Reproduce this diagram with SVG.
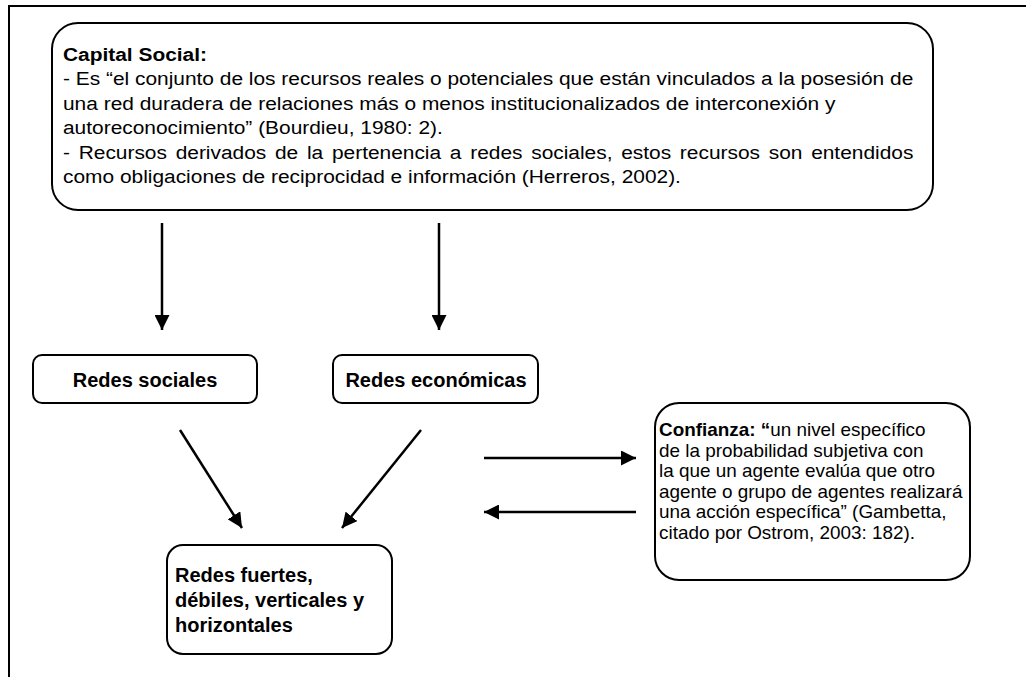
<svg xmlns="http://www.w3.org/2000/svg" width="1026" height="677" viewBox="0 0 1026 677">
<defs>
<style>
.box{fill:#fff;stroke:#000;stroke-width:2}
.frame{fill:none;stroke:#000;stroke-width:2}
.t{font-family:"Liberation Sans",Arial,sans-serif;font-size:18px;fill:#000}
.t19{font-size:19px}
.b{font-weight:bold}
.tb{font-family:"Liberation Sans",Arial,sans-serif;font-size:20px;font-weight:bold;fill:#000}
.edge{fill:none;stroke:#000;stroke-width:2.5}
</style>
<marker id="ah" viewBox="0 0 10 10" refX="10" refY="5" markerWidth="6" markerHeight="6" markerUnits="strokeWidth" orient="auto">
<path d="M0,0 L10,5 L0,10 Z" fill="#000"/>
</marker>
</defs>
<rect width="1026" height="677" fill="#fff"/>
<path class="frame" d="M9,677 V6 H1026"/>

<g id="capital-social">
<rect class="box" x="52" y="23" width="881" height="187" rx="26"/>
<g transform="translate(63 0) scale(1.1 1)">
<text class="t t19 b" x="0" y="61">Capital Social:</text>
<text class="t t19" x="0" y="85.5">- Es “el conjunto de los recursos reales o potenciales que están vinculados a la posesión de</text>
<text class="t t19" x="0" y="110">una red duradera de relaciones más o menos institucionalizados de interconexión y</text>
<text class="t t19" x="0" y="134.5">autoreconocimiento” (Bourdieu, 1980: 2).</text>
<text class="t t19" x="0" y="159" word-spacing="2.65">- Recursos derivados de la pertenencia a redes sociales, estos recursos son entendidos</text>
<text class="t t19" x="0" y="183.5">como obligaciones de reciprocidad e información (Herreros, 2002).</text>
</g>
</g>

<g id="redes-sociales">
<rect class="box" x="33" y="355" width="224" height="48" rx="9"/>
<text class="tb" x="145" y="387" text-anchor="middle">Redes sociales</text>
</g>

<g id="redes-economicas">
<rect class="box" x="333" y="355" width="205" height="48" rx="9"/>
<text class="tb" x="436" y="387" text-anchor="middle">Redes económicas</text>
</g>

<g id="redes-fuertes">
<rect class="box" x="167" y="545" width="225" height="109" rx="16"/>
<text class="tb" x="175" y="582">Redes fuertes,</text>
<text class="tb" x="175" y="607">débiles, verticales y</text>
<text class="tb" x="175" y="632">horizontales</text>
</g>

<g id="confianza">
<rect class="box" x="655" y="403" width="315" height="177" rx="24"/>
<g transform="translate(659 0) scale(1.05 1)">
<text class="t" x="0" y="436"><tspan class="b">Confianza: “</tspan>un nivel específico</text>
<text class="t" x="0" y="456.6">de la probabilidad subjetiva con</text>
<text class="t" x="0" y="477.2">la que un agente evalúa que otro</text>
<text class="t" x="0" y="497.8">agente o grupo de agentes realizará</text>
<text class="t" x="0" y="518.4">una acción específica” (Gambetta,</text>
<text class="t" x="0" y="539">citado por Ostrom, 2003: 182).</text>
</g>
</g>

<g id="connectors">
<line class="edge" x1="162" y1="223" x2="162" y2="330" marker-end="url(#ah)"/>
<line class="edge" x1="439" y1="223" x2="439" y2="330" marker-end="url(#ah)"/>
<line class="edge" x1="180" y1="430" x2="242" y2="528" marker-end="url(#ah)"/>
<line class="edge" x1="421" y1="430" x2="342" y2="528" marker-end="url(#ah)"/>
<line class="edge" x1="484" y1="458" x2="636" y2="458" marker-end="url(#ah)"/>
<line class="edge" x1="636" y1="512" x2="484" y2="512" marker-end="url(#ah)"/>
</g>
</svg>
